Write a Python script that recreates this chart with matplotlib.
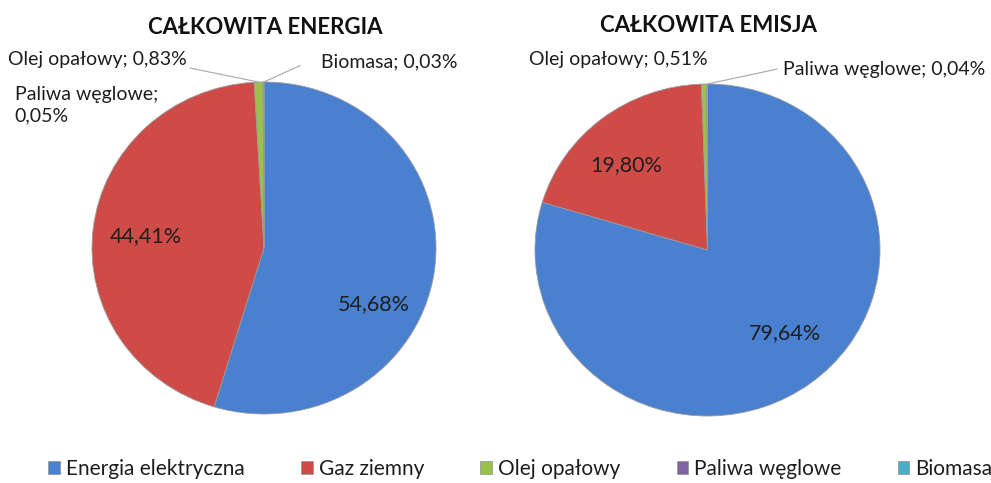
import numpy as np
import matplotlib.pyplot as plt

categories = ['Energia elektryczna', 'Gaz ziemny', 'Olej opałowy', 'Paliwa węglowe', 'Biomasa']
energia = [54.68, 44.41, 0.83, 0.05, 0.03]
emisja = [79.64, 19.80, 0.51, 0.04, 0.01]
colors = ['#4A80D0', '#CF4B47', '#9BC04E', '#8064A2', '#4BACC6']

plt.rcParams['font.family'] = ['Lato', 'DejaVu Sans']
txt = '#1e1e1e'
W, H = 991, 483

fig = plt.figure(figsize=(W / 100, H / 100), dpi=100)


def pie_axes(x0, x1, y0, y1):
    ax = fig.add_axes([x0 / W, 1 - y1 / H, (x1 - x0) / W, (y1 - y0) / H])
    return ax


def fmt(v):
    return f'{v:.2f}%'.replace('.', ',')


def edge_point(w, r=1.0):
    a = np.deg2rad((w.theta1 + w.theta2) / 2)
    return r * np.cos(a), r * np.sin(a)


def draw_pie(ax, values):
    wedges, _ = ax.pie(values, colors=colors, startangle=90, counterclock=False,
                       wedgeprops=dict(linewidth=0.6, edgecolor='#9a9a9a'))
    ax.set_aspect('auto')
    ax.set_xlim(-1, 1)
    ax.set_ylim(-1, 1)
    return wedges


leader = dict(arrowstyle='-', color='#a8a8a8', lw=0.8, shrinkA=0, shrinkB=0)

# left pie - total energy
ax1 = pie_axes(92, 436, 82, 414)
w1 = draw_pie(ax1, energia)
ax1.text(0.64, -0.34, fmt(energia[0]), ha='center', va='center', fontsize=15.5, color=txt)
ax1.text(-0.69, 0.07, fmt(energia[1]), ha='center', va='center', fontsize=15.5, color=txt)
ax1.annotate(f'{categories[2]}; {fmt(energia[2])}', xy=edge_point(w1[2]), xytext=(-0.45, 1.135),
             ha='right', va='center', fontsize=14, color=txt,
             arrowprops=dict(leader, relpos=(1.02, 0.0)))
ax1.annotate(f'{categories[4]}; {fmt(energia[4])}', xy=edge_point(w1[4]), xytext=(0.33, 1.12),
             ha='left', va='center', fontsize=14, color=txt,
             arrowprops=dict(leader, relpos=(-0.15, 0.3)))
ax1.text(-1.45, 0.86, f'{categories[3]};\n{fmt(energia[3])}', ha='left', va='center',
         fontsize=14, color=txt, linespacing=1.3)

# right pie - total emission
ax2 = pie_axes(535, 880, 84, 416)
w2 = draw_pie(ax2, emisja)
ax2.text(0.45, -0.50, fmt(emisja[0]), ha='center', va='center', fontsize=15.5, color=txt)
ax2.text(-0.47, 0.51, fmt(emisja[1]), ha='center', va='center', fontsize=15.5, color=txt)
ax2.text(0.0, 1.15, f'{categories[2]}; {fmt(emisja[2])}', ha='right', va='center',
         fontsize=14, color=txt)
ax2.annotate(f'{categories[3]}; {fmt(emisja[3])}', xy=edge_point(w2[3]), xytext=(0.44, 1.09),
             ha='left', va='center', fontsize=14, color=txt,
             arrowprops=dict(leader, relpos=(-0.03, 0.5)))

fig.text(265 / W, 1 - 34 / H, 'CAŁKOWITA ENERGIA', ha='center', va='baseline',
         fontsize=16, fontweight='bold', color='#111111')
fig.text(708 / W, 1 - 32 / H, 'CAŁKOWITA EMISJA', ha='center', va='baseline',
         fontsize=16, fontweight='bold', color='#111111')

fig.legend(w1, categories, loc='center left', bbox_to_anchor=(40 / W, 1 - 469 / H), ncol=5,
           frameon=False, fontsize=15, handlelength=0.55, handleheight=0.55,
           handletextpad=0.3, columnspacing=2.7, labelcolor=txt, borderaxespad=0)

fig.savefig('out.png', dpi=100)
